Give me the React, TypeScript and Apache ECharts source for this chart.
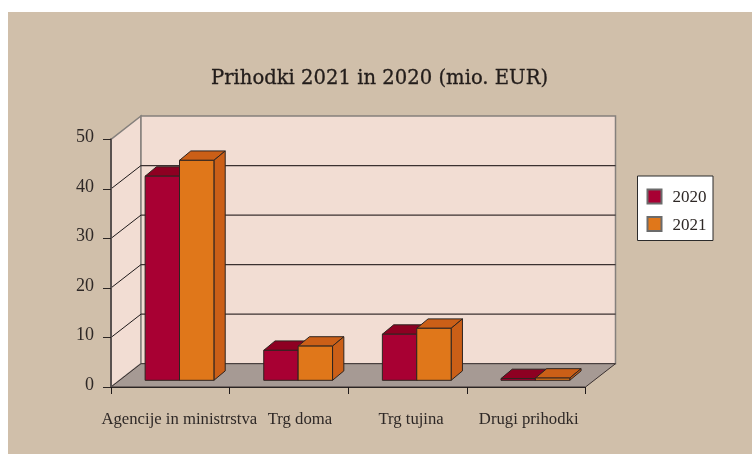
import React, { useEffect, useRef } from "react";
import * as echarts from "echarts";

const categories = ["Agencije in ministrstva", "Trg doma", "Trg tujina", "Drugi prihodki"];
const labelShift = [9, 11, 3.5, 2.5];
const values2020 = [41.2, 6.05, 9.3, 0.35];
const values2021 = [44.4, 6.9, 10.5, 0.45];
const yTicks = [0, 10, 20, 30, 40, 50];

const FONT = '"Liberation Serif", serif';
const TEXT = "#2e2826";
const WALL_DX = 30;
const WALL_DY = -23.3;
const BAR_DX = 9.2;
const BAR_DY = -6.7;
const BAR_W = 34.4;
const SIDE_DX = 11.3;
const SIDE_DY = -9.4;

function frameItem(params: any, api: any) {
  const v = api.value(1);
  const [, y] = api.coord([0, v]);
  const cs = params.coordSys;
  const x0 = cs.x;
  const x1 = cs.x + cs.width;
  const bx0 = x0 + WALL_DX;
  const bx1 = x1 + WALL_DX;
  const children: any[] = [];
  const grey = "#85807c";
  const dark = "#3b3130";
  if (v === 0) {
    const top = cs.y;
    const fill = "#f2ddd3";
    children.push({
      type: "polygon",
      shape: { points: [[x0, y], [bx0, y + WALL_DY], [bx0, top + WALL_DY], [x0, top]] },
      style: { fill, stroke: grey, lineWidth: 1.5 },
    });
    children.push({
      type: "rect",
      shape: { x: bx0, y: top + WALL_DY, width: cs.width, height: y - top },
      style: { fill, stroke: grey, lineWidth: 1.5 },
    });
    children.push({
      type: "polygon",
      shape: { points: [[x0, y], [x1, y], [bx1, y + WALL_DY], [bx0, y + WALL_DY]] },
      style: { fill: "#a69a94", stroke: "#3b3130", lineWidth: 1 },
    });
  } else if (v < 50) {
    children.push({
      type: "line",
      shape: { x1: x0, y1: y, x2: bx0, y2: y + WALL_DY },
      style: { stroke: "#1f1a1a", lineWidth: 1 },
    });
    children.push({
      type: "line",
      shape: { x1: bx0, y1: y + WALL_DY, x2: bx1, y2: y + WALL_DY },
      style: { stroke: dark, lineWidth: 1.2 },
    });
  }
  return { type: "group", children };
}

function barItem(offsetSign: number, front: string, shade: string) {
  return (_params: any, api: any) => {
    const [cx, y] = api.coord([api.value(0), api.value(1)]);
    const [, base] = api.coord([api.value(0), 0]);
    const left = cx + BAR_DX + (offsetSign < 0 ? -BAR_W : 0);
    const right = left + BAR_W;
    const top = y + BAR_DY;
    const bottom = base + BAR_DY;
    const stroke = "#2e2420";
    const style = (fill: string) => ({ fill, stroke, lineWidth: 1, lineJoin: "round" });
    return {
      type: "group",
      children: [
        {
          type: "polygon",
          shape: { points: [[left, top], [right, top], [right + SIDE_DX, top + SIDE_DY], [left + SIDE_DX, top + SIDE_DY]] },
          style: style(shade),
        },
        {
          type: "polygon",
          shape: { points: [[right, top], [right + SIDE_DX, top + SIDE_DY], [right + SIDE_DX, bottom + SIDE_DY], [right, bottom]] },
          style: style(shade),
        },
        {
          type: "rect",
          shape: { x: left, y: top, width: BAR_W, height: bottom - top },
          style: style(front),
        },
      ],
    };
  };
}

export default function App() {
  const ref = useRef<HTMLDivElement>(null);
  useEffect(() => {
    const chart = echarts.init(ref.current!, undefined, { renderer: "svg" });
    chart.setOption({
      animation: false,
      backgroundColor: "transparent",
      title: {
        text: "Prihodki 2021 in 2020 (mio. EUR)",
        left: 374.5,
        textAlign: "center",
        top: 62,
        textStyle: {
          fontFamily: '"DejaVu Serif", serif',
          fontSize: 19.6,
          fontWeight: "normal",
          color: "#221c1a",
          textBorderColor: "#221c1a",
          textBorderWidth: 0.3,
        },
      },
      graphic: [
        {
          type: "rect",
          z: -10,
          silent: true,
          shape: { x: 8, y: 12, width: 744, height: 442 },
          style: { fill: "#d0bfaa" },
        },
      ],
      legend: {
        data: ["2020", "2021"],
        orient: "vertical",
        icon: "rect",
        left: 637.5,
        top: 176,
        width: 76,
        padding: [12, 6.5, 8, 9],
        itemWidth: 14,
        itemHeight: 14,
        itemGap: 10.5,
        backgroundColor: "#ffffff",
        borderColor: "#2b2b2b",
        borderWidth: 1,
        selectedMode: false,
        textStyle: { fontFamily: FONT, fontSize: 17, color: TEXT, padding: [0, 0, 0, 6] },
      },
      grid: { left: 111, right: 166.5, top: 139.3, bottom: 67, containLabel: false },
      xAxis: {
        type: "category",
        data: categories.map((c, i) => ({ value: c, textStyle: { padding: [0, 0, 0, labelShift[i] * 2] } })),
        z: 5,
        axisLine: { lineStyle: { color: "#2b2523", width: 1.2 } },
        axisTick: { show: true, alignWithLabel: false, length: 7, lineStyle: { color: "#1f1a1a", width: 1 } },
        axisLabel: { interval: 0, margin: 23, fontFamily: FONT, fontSize: 16.7, color: TEXT, hideOverlap: false },
        splitLine: { show: false },
      },
      yAxis: {
        type: "value",
        min: 0,
        max: 50,
        interval: 10,
        z: 5,
        axisLine: { show: true, lineStyle: { color: "#5a5250", width: 2 } },
        axisTick: { show: true, length: 8, lineStyle: { color: "#2b2523", width: 1 } },
        axisLabel: { margin: 17, fontFamily: FONT, fontSize: 18, color: TEXT, verticalAlign: "bottom", lineHeight: 6 },
        splitLine: { show: false },
      },
      series: [
        {
          name: "frame",
          type: "custom",
          z: 1,
          silent: true,
          clip: false,
          data: yTicks.map((t) => [0, t]),
          encode: { x: 0, y: 1 },
          renderItem: frameItem,
        },
        {
          name: "2020",
          type: "custom",
          z: 2,
          clip: false,
          itemStyle: { color: "#a80033", borderColor: "#6b6b6b", borderWidth: 1 },
          data: values2020.map((v, i) => [i, v]),
          encode: { x: 0, y: 1 },
          renderItem: barItem(-1, "#a80033", "#8e0022"),
        },
        {
          name: "2021",
          type: "custom",
          z: 3,
          clip: false,
          itemStyle: { color: "#e0771a", borderColor: "#6b6b6b", borderWidth: 1 },
          data: values2021.map((v, i) => [i, v]),
          encode: { x: 0, y: 1 },
          renderItem: barItem(1, "#e0771a", "#cb5f17"),
        },
      ],
    });
    return () => chart.dispose();
  }, []);
  return <div ref={ref} style={{ position: "fixed", left: 0, top: 0, width: 752, height: 454 }} />;
}
